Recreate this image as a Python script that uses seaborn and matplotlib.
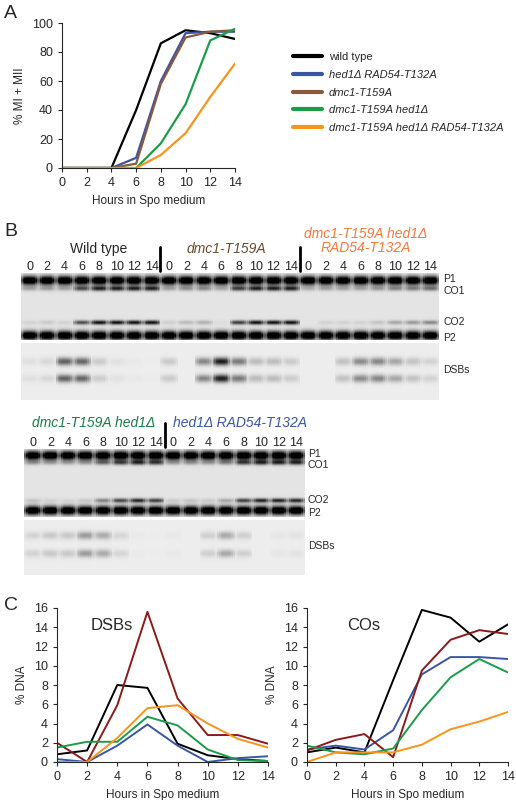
import numpy as np
import matplotlib.pyplot as plt
import seaborn as sns

sns.set_style("ticks")
plt.rcParams['font.family'] = ['Liberation Sans', 'DejaVu Sans']

hours = [0, 2, 4, 6, 8, 10, 12, 14]
strains = ['wild type', 'hed1Δ RAD54-T132A', 'dmc1-T159A', 'dmc1-T159A hed1Δ',
           'dmc1-T159A hed1Δ RAD54-T132A']
colors_a = ['black', '#3a55a4', '#8b5a3c', '#1a9c4a', '#f7941d']
colors_c = ['black', '#3a55a4', '#8b1a1a', '#1a9c4a', '#f7941d']

mi_mii = {
    'wild type': [0, 0, 0, 40, 86, 95, 93, 89],
    'hed1Δ RAD54-T132A': [0, 0, 0, 7, 60, 93, 94, 94],
    'dmc1-T159A': [0, 0, 0, 3, 58, 90, 94, 95],
    'dmc1-T159A hed1Δ': [0, 0, 0, 0, 17, 44, 88, 96],
    'dmc1-T159A hed1Δ RAD54-T132A': [0, 0, 0, 0, 9, 24, 49, 72],
}
dsbs = {
    'wild type': [0.8, 1.2, 8.0, 7.7, 1.9, 0.7, 0.3, 0.1],
    'hed1Δ RAD54-T132A': [0.3, 0.0, 1.7, 3.9, 1.7, 0.0, 0.4, 0.6],
    'dmc1-T159A': [2.0, 0.0, 5.9, 15.6, 6.6, 2.8, 2.8, 1.9],
    'dmc1-T159A hed1Δ': [1.5, 2.1, 2.1, 4.7, 3.8, 1.3, 0.2, 0.1],
    'dmc1-T159A hed1Δ RAD54-T132A': [0.0, 0.0, 2.5, 5.6, 5.9, 4.0, 2.4, 1.5],
}
cos = {
    'wild type': [1.0, 1.5, 1.0, 8.5, 15.8, 15.0, 12.5, 14.3],
    'hed1Δ RAD54-T132A': [1.3, 1.7, 1.3, 3.3, 9.1, 10.9, 10.9, 10.7],
    'dmc1-T159A': [1.2, 2.3, 2.9, 0.5, 9.5, 12.7, 13.7, 13.3],
    'dmc1-T159A hed1Δ': [1.7, 1.0, 0.8, 1.4, 5.4, 8.8, 10.7, 9.3],
    'dmc1-T159A hed1Δ RAD54-T132A': [0.0, 1.0, 1.0, 1.0, 1.8, 3.4, 4.2, 5.2],
}

W, H = 516, 800
fig = plt.figure(figsize=(W / 100, H / 100), dpi=100)


def ax_px(x0, y0, x1, y1):
    return fig.add_axes([x0 / W, 1 - y1 / H, (x1 - x0) / W, (y1 - y0) / H])


def style(ax):
    sns.despine(ax=ax)
    ax.tick_params(labelsize=9, length=3)
    ax.set_xticks(hours)
    ax.set_xlim(0, 14)
    ax.set_xlabel('Hours in Spo medium', fontsize=8.5)


# Panel A
axA = ax_px(62, 23, 235, 168)
for s, c in zip(strains, colors_a):
    sns.lineplot(x=hours, y=mi_mii[s], color=c, lw=1.6, ax=axA, label=s)
style(axA)
axA.set_ylim(0, 100)
axA.set_yticks([0, 20, 40, 60, 80, 100])
axA.set_ylabel('% MI + MII', fontsize=8.5)
leg = axA.legend(loc='center left', bbox_to_anchor=(1.28, 0.52), frameon=False,
                 fontsize=8, handlelength=2.6, handletextpad=0.6, labelspacing=0.7)
for t in leg.get_texts()[1:]:
    t.set_style('italic')
for line in leg.get_lines():
    line.set_linewidth(3)
fig.text(4 / W, 1 - 14 / H, 'A', fontsize=14, va='center')


def band(y, c, w):
    return np.exp(-((y - c) / w) ** 2)


# Panel B gels, band intensities taken from panel C values
def gel(x0, x1, ytop, ysplit, ybot, lanes_strains, p1, co1, co2, p2, d1, d2, labx, numy):
    y = np.arange(ysplit - ytop)[:, None]
    yd = np.arange(ybot - ysplit - 3)[:, None]
    xl = np.linspace(-1, 1, 10)[None, :]
    lane_prof = 0.35 + 0.65 * np.exp(-(xl / 0.9) ** 4)
    cols, dcols = [], []
    for s in lanes_strains:
        for i in range(len(hours)):
            co = min(cos[s][i] / 12, 1.0)
            col = (band(y, p1, 4.5) * 1.3 + band(y, co1, 2.5) * (0.2 + 0.6 * co)
                   + band(y, co2, 2.2) * co * 0.9 + band(y, p2, 4.5) * 1.3)
            cols.append(0.12 + col * lane_prof)
            d = min(dsbs[s][i] / 12, 1.0)
            dcol = (band(yd, d1, 4) + band(yd, d2, 4)) * d * 0.9
            dcols.append(0.08 + dcol * lane_prof)
    ax = ax_px(x0, ytop, x1, ysplit)
    sns.heatmap(np.hstack(cols), cmap='gray_r', vmin=0, vmax=1.1, cbar=False,
                ax=ax, xticklabels=False, yticklabels=False)
    axd = ax_px(x0, ysplit + 3, x1, ybot)
    sns.heatmap(np.hstack(dcols), cmap='gray_r', vmin=0, vmax=1.1, cbar=False,
                ax=axd, xticklabels=False, yticklabels=False)
    n = len(lanes_strains) * len(hours)
    lw = (x1 - x0) / n
    for k in range(n):
        fig.text((x0 + lw * (k + 0.5)) / W, 1 - numy / H, str(hours[k % 8]),
                 fontsize=9, ha='center', va='center')
    for k in range(1, len(lanes_strains)):
        xs = (x0 + lw * 8 * k) / W
        fig.lines.append(plt.Line2D([xs, xs], [1 - (numy - 20) / H, 1 - (ytop - 2) / H],
                                    color='black', lw=2, transform=fig.transFigure))
    for lab, yy in [('P1', p1 - 1), ('CO1', co1 + 3), ('CO2', co2), ('P2', p2 + 3)]:
        fig.text(labx / W, 1 - (ytop + yy) / H, lab, fontsize=7.5, va='center')
    fig.text(labx / W, 1 - ((ysplit + ybot) / 2) / H, 'DSBs', fontsize=7.5, va='center')


fig.text(4 / W, 1 - 232 / H, 'B', fontsize=14, va='center')
gel(21, 439, 273, 340, 400, ['wild type', 'dmc1-T159A', 'dmc1-T159A hed1Δ RAD54-T132A'],
    7, 15, 49, 62, 18, 35, 443, 267)
fig.text(99 / W, 1 - 249 / H, 'Wild type', fontsize=10, ha='center', va='center')
fig.text(226 / W, 1 - 249 / H, 'dmc1-T159A', fontsize=10, ha='center', va='center',
         style='italic', color='#6b4a2c')
fig.text(366 / W, 1 - 241 / H, 'dmc1-T159A hed1Δ\nRAD54-T132A', fontsize=10, ha='center',
         va='center', style='italic', color='#f07a3a', linespacing=1.0)
gel(24, 305, 449, 517, 575, ['dmc1-T159A hed1Δ', 'hed1Δ RAD54-T132A'],
    6, 13, 51, 61, 15, 33, 308, 443)
fig.text(94 / W, 1 - 423 / H, 'dmc1-T159A hed1Δ', fontsize=10, ha='center', va='center',
         style='italic', color='#1a7a4a')
fig.text(240 / W, 1 - 423 / H, 'hed1Δ RAD54-T132A', fontsize=10, ha='center', va='center',
         style='italic', color='#3a55a4')

# Panel C
fig.text(4 / W, 1 - 605 / H, 'C', fontsize=14, va='center')
for (x0, x1), data, title in [((57, 268), dsbs, 'DSBs'), ((307, 508), cos, 'COs')]:
    ax = ax_px(x0, 608, x1, 762)
    for s, c in zip(strains, colors_c):
        sns.lineplot(x=hours, y=data[s], color=c, lw=1.4, ax=ax)
    style(ax)
    ax.set_ylim(0, 16)
    ax.set_yticks(range(0, 17, 2))
    ax.set_ylabel('% DNA', fontsize=8.5)
    ax.text(0.16 if title == 'DSBs' else 0.2, 0.86, title, transform=ax.transAxes, fontsize=12)

fig.savefig('out.png', dpi=100)
